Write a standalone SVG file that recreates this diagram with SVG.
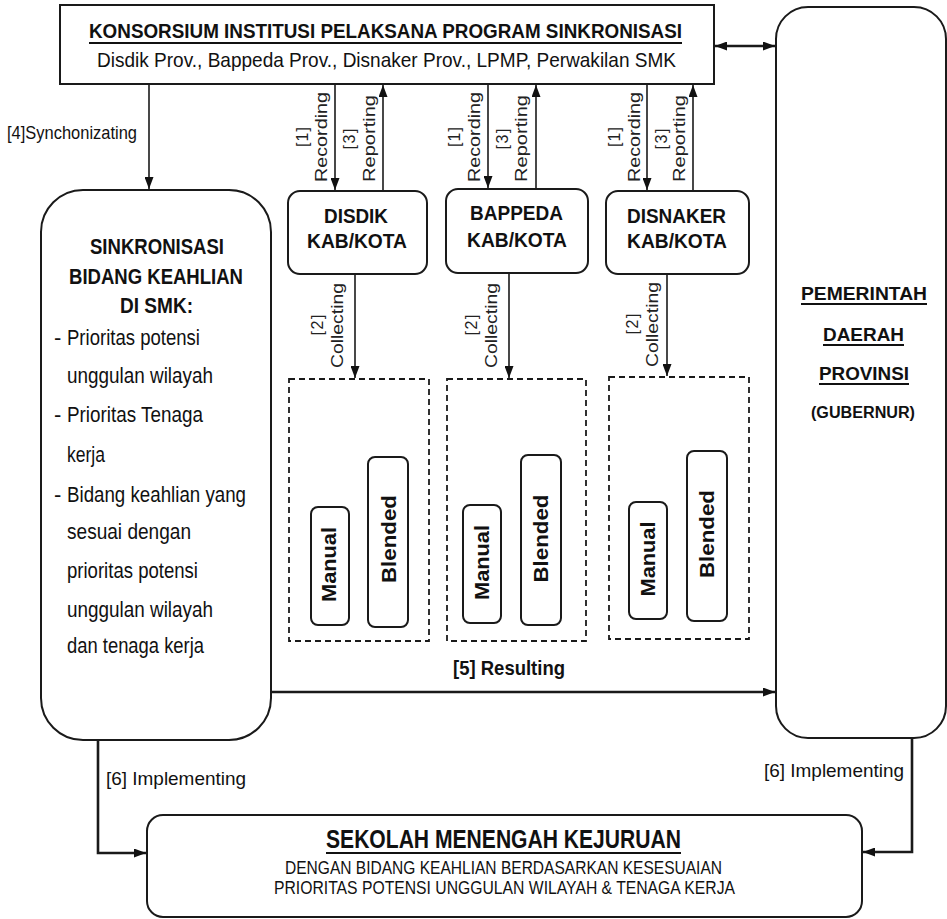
<svg xmlns="http://www.w3.org/2000/svg" width="947" height="919" viewBox="0 0 947 919">
<style>
.box{fill:#fff;stroke:#1a1a1a;stroke-width:2}
.dash{fill:none;stroke:#1a1a1a;stroke-width:1.8;stroke-dasharray:6 4}
.ln{fill:none;stroke:#1a1a1a;stroke-width:1.6}
.thick{fill:none;stroke:#1a1a1a;stroke-width:2.6}
.ul{stroke:#111;stroke-width:2.2}
.n{font-family:"Liberation Sans Narrow","Liberation Sans",Arial,sans-serif;fill:#111}
.a{font-family:"Liberation Sans",Arial,sans-serif;fill:#111}
.b{font-weight:bold}
.rot{font-family:"Liberation Sans",Arial,sans-serif;font-size:16px;fill:#222;text-anchor:middle}
.rb{font-family:"Liberation Sans",Arial,sans-serif;font-size:20px;font-weight:bold;fill:#111;text-anchor:middle}
.mid{text-anchor:middle}
</style>
<defs>
<marker id="ah" viewBox="0 0 12 9" refX="12" refY="4.5" markerWidth="12" markerHeight="9" markerUnits="userSpaceOnUse" orient="auto-start-reverse">
<path d="M0,0 L12,4.5 L0,9 z" fill="#111"/>
</marker>
</defs>

<g id="connectors">
<line class="ln" x1="149" y1="84" x2="149" y2="189" marker-end="url(#ah)"/>
<line class="ln" x1="335" y1="84" x2="335" y2="190" marker-end="url(#ah)"/>
<line class="ln" x1="383" y1="191" x2="383" y2="85" marker-end="url(#ah)"/>
<line class="ln" x1="488" y1="84" x2="488" y2="188" marker-end="url(#ah)"/>
<line class="ln" x1="536" y1="189" x2="536" y2="85" marker-end="url(#ah)"/>
<line class="ln" x1="647" y1="84" x2="647" y2="190" marker-end="url(#ah)"/>
<line class="ln" x1="693" y1="191" x2="693" y2="85" marker-end="url(#ah)"/>
<line class="ln" x1="355" y1="274" x2="355" y2="378" marker-end="url(#ah)"/>
<line class="ln" x1="509" y1="273" x2="509" y2="378" marker-end="url(#ah)"/>
<line class="ln" x1="667" y1="274" x2="667" y2="376" marker-end="url(#ah)"/>
<line class="thick" x1="272" y1="692" x2="775" y2="692" marker-end="url(#ah)"/>
<line class="thick" x1="715" y1="46" x2="775" y2="46" marker-start="url(#ah)" marker-end="url(#ah)"/>
<path class="thick" d="M98,740 V853 H146" marker-end="url(#ah)"/>
<path class="thick" d="M912,738 V852 H863" marker-end="url(#ah)"/>

<text class="n" x="7" y="139" font-size="19" textLength="130" lengthAdjust="spacingAndGlyphs">[4]Synchonizating</text>

<g transform="translate(303,137) rotate(-90)"><text class="rot" y="5" textLength="20" lengthAdjust="spacing">[1]</text></g>
<g transform="translate(322,137) rotate(-90)"><text class="rot" y="5" textLength="90" lengthAdjust="spacingAndGlyphs">Recording</text></g>
<g transform="translate(350,139) rotate(-90)"><text class="rot" y="5" textLength="21" lengthAdjust="spacing">[3]</text></g>
<g transform="translate(370,138.5) rotate(-90)"><text class="rot" y="5" textLength="87" lengthAdjust="spacingAndGlyphs">Reporting</text></g>

<g transform="translate(455,137) rotate(-90)"><text class="rot" y="5" textLength="20" lengthAdjust="spacing">[1]</text></g>
<g transform="translate(475,137) rotate(-90)"><text class="rot" y="5" textLength="90" lengthAdjust="spacingAndGlyphs">Recording</text></g>
<g transform="translate(503,139) rotate(-90)"><text class="rot" y="5" textLength="21" lengthAdjust="spacing">[3]</text></g>
<g transform="translate(522,138.5) rotate(-90)"><text class="rot" y="5" textLength="87" lengthAdjust="spacingAndGlyphs">Reporting</text></g>

<g transform="translate(615,137) rotate(-90)"><text class="rot" y="5" textLength="20" lengthAdjust="spacing">[1]</text></g>
<g transform="translate(635,137) rotate(-90)"><text class="rot" y="5" textLength="90" lengthAdjust="spacingAndGlyphs">Recording</text></g>
<g transform="translate(662,139) rotate(-90)"><text class="rot" y="5" textLength="21" lengthAdjust="spacing">[3]</text></g>
<g transform="translate(680,138.5) rotate(-90)"><text class="rot" y="5" textLength="87" lengthAdjust="spacingAndGlyphs">Reporting</text></g>

<g transform="translate(318,325) rotate(-90)"><text class="rot" y="5" textLength="21" lengthAdjust="spacing">[2]</text></g>
<g transform="translate(338,325.5) rotate(-90)"><text class="rot" y="5" textLength="85" lengthAdjust="spacingAndGlyphs">Collecting</text></g>
<g transform="translate(472,325) rotate(-90)"><text class="rot" y="5" textLength="21" lengthAdjust="spacing">[2]</text></g>
<g transform="translate(492,325.5) rotate(-90)"><text class="rot" y="5" textLength="85" lengthAdjust="spacingAndGlyphs">Collecting</text></g>
<g transform="translate(633,324) rotate(-90)"><text class="rot" y="5" textLength="21" lengthAdjust="spacing">[2]</text></g>
<g transform="translate(653,324.5) rotate(-90)"><text class="rot" y="5" textLength="85" lengthAdjust="spacingAndGlyphs">Collecting</text></g>

<text class="n b mid" x="509" y="675" font-size="21" textLength="112" lengthAdjust="spacingAndGlyphs">[5] Resulting</text>
<text class="n" x="106" y="785" font-size="19" fill="#333" textLength="140" lengthAdjust="spacingAndGlyphs">[6] Implementing</text>
<text class="n" x="764" y="777" font-size="19" fill="#333" textLength="140" lengthAdjust="spacingAndGlyphs">[6] Implementing</text>
</g>

<g id="konsorsium">
<rect class="box" x="60" y="5" width="654" height="79"/>
<text class="n b mid" x="385.5" y="38" font-size="21" textLength="593" lengthAdjust="spacingAndGlyphs">KONSORSIUM INSTITUSI PELAKSANA PROGRAM SINKRONISASI</text>
<line class="ul" x1="89" y1="43" x2="682" y2="43"/>
<text class="n mid" x="386.5" y="67" font-size="21" textLength="579" lengthAdjust="spacingAndGlyphs">Disdik Prov., Bappeda Prov., Disnaker Prov., LPMP, Perwakilan SMK</text>
</g>

<g id="pemda">
<rect class="box" x="776" y="7" width="170" height="731" rx="32"/>
<text class="a b mid" x="864" y="300" font-size="19" textLength="126" lengthAdjust="spacingAndGlyphs">PEMERINTAH</text>
<line class="ul" x1="801" y1="304" x2="927" y2="304"/>
<text class="a b mid" x="863.5" y="341" font-size="19" textLength="81" lengthAdjust="spacingAndGlyphs">DAERAH</text>
<line class="ul" x1="823" y1="345" x2="904" y2="345"/>
<text class="a b mid" x="864" y="380" font-size="19" textLength="90" lengthAdjust="spacingAndGlyphs">PROVINSI</text>
<line class="ul" x1="819" y1="384" x2="909" y2="384"/>
<text class="a b mid" x="863" y="418" font-size="16" textLength="104" lengthAdjust="spacingAndGlyphs">(GUBERNUR)</text>
</g>

<g id="sinkronisasi">
<rect class="box" x="41" y="190" width="230" height="550" rx="42"/>
<text class="n b mid" x="157" y="254" font-size="22" textLength="134" lengthAdjust="spacingAndGlyphs">SINKRONISASI</text>
<text class="n b mid" x="156" y="284" font-size="22" textLength="174" lengthAdjust="spacingAndGlyphs">BIDANG KEAHLIAN</text>
<text class="n b mid" x="156.5" y="313" font-size="22" textLength="73" lengthAdjust="spacingAndGlyphs">DI SMK:</text>
<text class="n" x="54" y="345" font-size="22">-</text>
<text class="n" x="67" y="345" font-size="22" textLength="133" lengthAdjust="spacingAndGlyphs">Prioritas potensi</text>
<text class="n" x="67" y="383" font-size="22" textLength="146" lengthAdjust="spacingAndGlyphs">unggulan wilayah</text>
<text class="n" x="54" y="422" font-size="22">-</text>
<text class="n" x="67" y="422" font-size="22" textLength="136" lengthAdjust="spacingAndGlyphs">Prioritas Tenaga</text>
<text class="n" x="67" y="462" font-size="22" textLength="38" lengthAdjust="spacingAndGlyphs">kerja</text>
<text class="n" x="54" y="502" font-size="22">-</text>
<text class="n" x="67" y="502" font-size="22" textLength="179" lengthAdjust="spacingAndGlyphs">Bidang keahlian yang</text>
<text class="n" x="67" y="539" font-size="22" textLength="124" lengthAdjust="spacingAndGlyphs">sesuai dengan</text>
<text class="n" x="67" y="578" font-size="22" textLength="131" lengthAdjust="spacingAndGlyphs">prioritas potensi</text>
<text class="n" x="67" y="617" font-size="22" textLength="146" lengthAdjust="spacingAndGlyphs">unggulan wilayah</text>
<text class="n" x="67" y="653" font-size="22" textLength="137" lengthAdjust="spacingAndGlyphs">dan tenaga kerja</text>
</g>

<g id="disdik">
<rect class="box" x="288" y="191" width="139" height="83" rx="12"/>
<text class="n b mid" x="356" y="223" font-size="21" textLength="64" lengthAdjust="spacingAndGlyphs">DISDIK</text>
<text class="n b mid" x="357" y="248" font-size="21" textLength="100" lengthAdjust="spacingAndGlyphs">KAB/KOTA</text>
</g>
<g id="bappeda">
<rect class="box" x="446" y="189" width="142" height="84" rx="12"/>
<text class="n b mid" x="516.5" y="220" font-size="21" textLength="93" lengthAdjust="spacingAndGlyphs">BAPPEDA</text>
<text class="n b mid" x="517" y="247" font-size="21" textLength="100" lengthAdjust="spacingAndGlyphs">KAB/KOTA</text>
</g>
<g id="disnaker">
<rect class="box" x="606" y="191" width="143" height="83" rx="12"/>
<text class="n b mid" x="676.5" y="223" font-size="21" textLength="99" lengthAdjust="spacingAndGlyphs">DISNAKER</text>
<text class="n b mid" x="677" y="248" font-size="21" textLength="100" lengthAdjust="spacingAndGlyphs">KAB/KOTA</text>
</g>

<g id="hasil-disdik">
<rect class="dash" x="289" y="379" width="140" height="262"/>
<rect class="box" x="311" y="507" width="38" height="118" rx="7"/>
<g transform="translate(329,564.5) rotate(-90)"><text class="rb" y="7" textLength="75" lengthAdjust="spacingAndGlyphs">Manual</text></g>
<rect class="box" x="368" y="457" width="40" height="170" rx="7"/>
<g transform="translate(388.5,539) rotate(-90)"><text class="rb" y="7" textLength="88" lengthAdjust="spacingAndGlyphs">Blended</text></g>
</g>
<g id="hasil-bappeda">
<rect class="dash" x="447" y="379" width="139" height="262"/>
<rect class="box" x="463" y="505" width="38" height="118" rx="7"/>
<g transform="translate(482,562.5) rotate(-90)"><text class="rb" y="7" textLength="75" lengthAdjust="spacingAndGlyphs">Manual</text></g>
<rect class="box" x="521" y="455" width="40" height="170" rx="7"/>
<g transform="translate(541,538.5) rotate(-90)"><text class="rb" y="7" textLength="88" lengthAdjust="spacingAndGlyphs">Blended</text></g>
</g>
<g id="hasil-disnaker">
<rect class="dash" x="609" y="377" width="140" height="262"/>
<rect class="box" x="629" y="502" width="38" height="117" rx="7"/>
<g transform="translate(648,559) rotate(-90)"><text class="rb" y="7" textLength="75" lengthAdjust="spacingAndGlyphs">Manual</text></g>
<rect class="box" x="687" y="451" width="40" height="170" rx="7"/>
<g transform="translate(707,534) rotate(-90)"><text class="rb" y="7" textLength="88" lengthAdjust="spacingAndGlyphs">Blended</text></g>
</g>

<g id="smk">
<rect class="box" x="147" y="815" width="715" height="102" rx="16"/>
<text class="n b mid" x="503.5" y="848" font-size="25" textLength="355" lengthAdjust="spacingAndGlyphs">SEKOLAH MENENGAH KEJURUAN</text>
<line class="ul" x1="326" y1="853" x2="681" y2="853"/>
<text class="n mid" x="503.5" y="874" font-size="18" textLength="437" lengthAdjust="spacingAndGlyphs">DENGAN BIDANG KEAHLIAN BERDASARKAN KESESUAIAN</text>
<text class="n mid" x="504.5" y="894" font-size="18" textLength="461" lengthAdjust="spacingAndGlyphs">PRIORITAS POTENSI UNGGULAN WILAYAH &amp; TENAGA KERJA</text>
</g>
</svg>
